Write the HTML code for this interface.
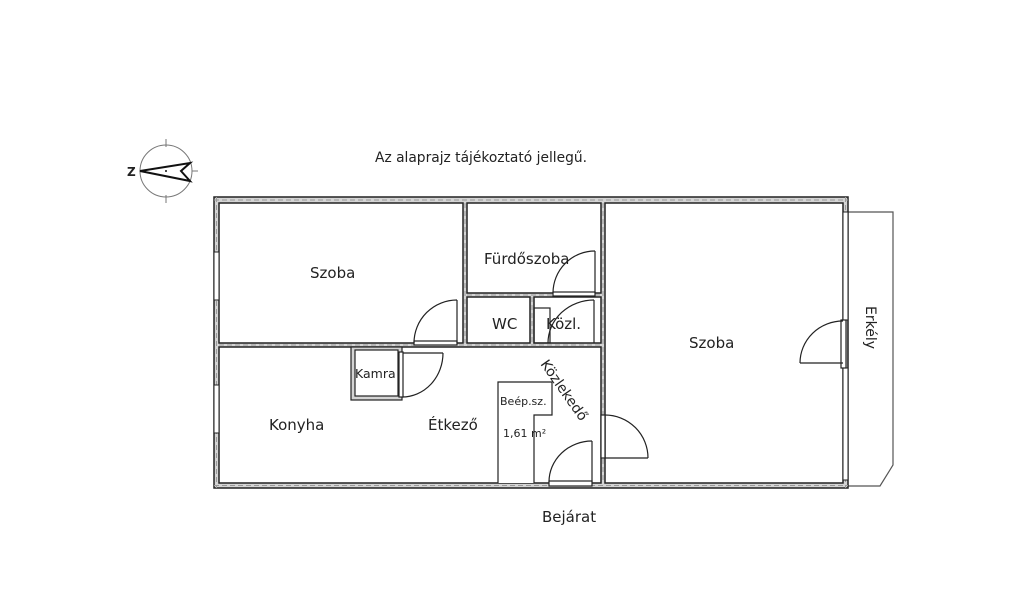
<!DOCTYPE html>
<html><head><meta charset="utf-8"><style>
html,body{margin:0;padding:0;background:#fff}
svg{display:block}
text{font-family:"DejaVu Sans","Liberation Sans",sans-serif;fill:#222}
</style></head><body>
<svg width="1024" height="610" viewBox="0 0 1024 610" xmlns="http://www.w3.org/2000/svg">
<rect width="1024" height="610" fill="#fff"/>
<!-- compass -->
<g stroke="#444" fill="none">
<circle cx="166" cy="171" r="26" stroke="#777"/>
<line x1="166" y1="139" x2="166" y2="147" stroke="#777"/>
<line x1="166" y1="195" x2="166" y2="203" stroke="#777"/>
<line x1="192" y1="171" x2="198" y2="171" stroke="#777"/>
<path d="M140,171 L190,163 L181,171 L190,181 Z" stroke="#111" stroke-width="2" fill="#fff"/>
</g>
<circle cx="166" cy="171" r="1" fill="#111"/>
<text x="127" y="176" font-size="12" font-weight="bold">Z</text>
<text x="375" y="162" font-size="13.8">Az alaprajz tájékoztató jellegű.</text>
<!-- balcony -->
<path d="M848,212 L893,212 L893,465 L880,486 L848,486" fill="none" stroke="#555" stroke-width="1.2"/>
<!-- walls -->
<rect x="214" y="197" width="634" height="291" fill="#d4d4d4" stroke="#222" stroke-width="1.5"/>
<g fill="#fff" stroke="#222" stroke-width="1.5">
<rect x="219" y="203" width="244" height="140"/>
<rect x="467" y="203" width="134" height="90"/>
<rect x="467" y="297" width="63" height="46"/>
<rect x="534" y="297" width="67" height="46"/>
<rect x="605" y="203" width="238" height="280"/>
<path d="M219,347 L601,347 L601,483 L219,483 Z"/>
</g>
<!-- hatch dashes -->
<g stroke="#999" stroke-width="1" stroke-dasharray="5,3">
<line x1="214" y1="200" x2="848" y2="200"/>
<line x1="214" y1="485.5" x2="848" y2="485.5"/>
<line x1="216.5" y1="197" x2="216.5" y2="488"/>
<line x1="845.5" y1="197" x2="845.5" y2="488"/>
<line x1="219" y1="345" x2="601" y2="345"/>
<line x1="465" y1="203" x2="465" y2="343"/>
<line x1="603" y1="203" x2="603" y2="483"/>
<line x1="467" y1="295" x2="601" y2="295"/>
<line x1="532" y1="297" x2="532" y2="343"/>
</g>
<!-- windows -->
<g fill="#fff" stroke="#222" stroke-width="1">
<rect x="214" y="252" width="5" height="48"/>
<rect x="214" y="385" width="5" height="48"/>
<rect x="843" y="212" width="5" height="108"/>
<rect x="843" y="368" width="5" height="112"/>
</g>
<!-- kamra -->
<rect x="351" y="347" width="51" height="53" fill="#d4d4d4" stroke="#222" stroke-width="1.2"/>
<rect x="355" y="350" width="43" height="46" fill="#fff" stroke="#222" stroke-width="1.2"/>
<!-- beep sz -->
<path d="M498,483 L498,382 L552,382 L552,415 L534,415 L534,483" fill="#fff" stroke="#222" stroke-width="1.2"/>
<!-- doors -->
<g fill="none" stroke="#222" stroke-width="1.2">
<rect x="414" y="341" width="43" height="4" fill="#fff"/>
<line x1="457" y1="300" x2="457" y2="343"/>
<path d="M457,300 A43,43 0 0 0 414,343"/>
<rect x="553" y="292" width="42" height="4" fill="#fff"/>
<line x1="595" y1="251" x2="595" y2="293"/>
<path d="M595,251 A42,42 0 0 0 553,293"/>
<line x1="594" y1="300" x2="594" y2="343"/>
<path d="M594,300 A46,43 0 0 0 548,343"/>
<rect x="534" y="308" width="16" height="35"/>
<line x1="402" y1="353" x2="443" y2="353"/>
<path d="M443,353 A41,44 0 0 1 402,397"/>
<rect x="399" y="352" width="4" height="45" fill="#fff"/>
<rect x="601" y="415" width="4" height="43" fill="#fff"/>
<line x1="605" y1="458" x2="648" y2="458"/>
<path d="M605,415 A43,43 0 0 1 648,458"/>
<rect x="549" y="481" width="43" height="5" fill="#fff"/>
<line x1="592" y1="441" x2="592" y2="482"/>
<path d="M592,441 A43,41 0 0 0 549,482"/>
<rect x="841" y="320" width="5" height="48" fill="#fff"/>
<line x1="800" y1="363" x2="843" y2="363"/>
<path d="M843,321 A43,42 0 0 0 800,363"/>
</g>
<!-- labels -->
<g font-size="15">
<text x="310" y="278">Szoba</text>
<text x="484" y="264">Fürdőszoba</text>
<text x="492" y="329">WC</text>
<text x="546" y="329">Közl.</text>
<text x="689" y="348">Szoba</text>
<text x="269" y="430">Konyha</text>
<text x="428" y="430">Étkező</text>
<text x="542" y="522">Bejárat</text>
</g>
<text x="355" y="378" font-size="12.5">Kamra</text>
<text x="500" y="405" font-size="11">Beép.sz.</text>
<text x="503" y="437" font-size="11">1,61 m²</text>
<text x="0" y="0" font-size="14" transform="translate(540,364) rotate(55)">Közlekedő</text>
<text x="0" y="0" font-size="14" transform="translate(866,306) rotate(90)">Erkély</text>
</svg>
</body></html>
